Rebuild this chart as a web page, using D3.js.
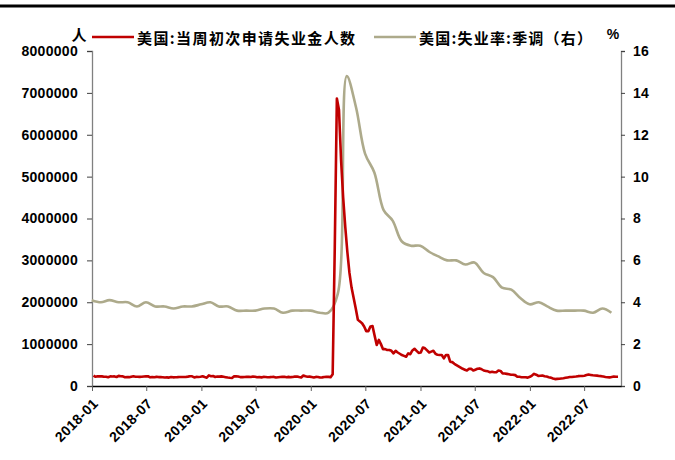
<!DOCTYPE html>
<html><head><meta charset="utf-8">
<script src="https://cdn.jsdelivr.net/npm/d3@7"></script>
<style>
html,body{margin:0;padding:0;background:#fff;}
svg{display:block;}
text{font-family:"Liberation Sans",Arial,sans-serif;font-weight:bold;fill:#000;}
.cn{font-family:"Noto Sans CJK SC","Noto Sans",sans-serif;font-weight:bold;}
</style>
</head><body>
<svg id="c" width="675" height="460"></svg>
<script>
// ---- data ----
const claimsName = "美国:当周初次申请失业金人数";
const rateName = "美国:失业率:季调（右）";
const leftUnit = "人";
const rightUnit = "%";
const claimsStart = "2018-01-06"; // weekly, week ending Saturday
// initial jobless claims, thousands of persons, weekly
const claims2018 = [250,220,233,230, 230,221,222,210, 231,226,229,215,242, 233,231,209,211, 211,223,234,221, 222,218,221,227,231, 232,207,216,208, 218,213,212,210, 203,205,201,214,207, 209,211,215,216, 214,216,224,234, 231,206,217,216,221];
const claims2019 = [231,213,199,253, 234,239,216,225, 223,230,221,211,202, 196,192,230,230, 228,212,211,215, 218,222,216,227,221, 209,216,206,217, 215,209,211,215,217, 204,208,213,219, 220,209,218,211, 215,225,227,213,203, 252,235,222,224];
const claims2020 = [214,205,217,216, 203,206,215,220,217, 211,282,3307,6867, 6600,5400,4500,3800, 3200,2700,2350,2100,1850, 1580,1540,1500,1420, 1310,1310,1420,1430, 1200,980,1100,1000,880, 880,860,860,840, 780,840,800,770,740, 720,700,780,760, 850,890,840,790];
const claims2021 = [800,920,900,850,800, 820,840,770,745, 740,740,660,740, 740,580,570,530, 500,470,440,410,390, 370,410,410,370, 390,410,420,400,370, 360,350,330,340, 330,330,370,360, 300,300,290,280,270, 270,260,220,220, 210,210,210,200];
const claims2022 = [220,250,290,270,240, 245,250,235,225, 210,200,180,165, 170,175,180,185,195, 205,215,215,220, 225,235,240,240, 245,260,275,265,255, 250,248,240,235, 225,215,210,205, 215,225,220,220];
// unemployment rate (SA), %, monthly, month-end, Dec 2017 .. Sep 2022
const rateStart = "2017-12";
const rate = [4.1,
  4.0,4.1,4.0,4.0,3.8,4.0,3.8,3.8,3.7,3.8,3.8,3.9,
  4.0,3.8,3.8,3.6,3.6,3.6,3.7,3.7,3.5,3.6,3.6,3.6,
  3.5,3.5,4.4,14.8,13.3,11.1,10.2,8.4,7.9,6.9,6.7,6.7,
  6.4,6.2,6.0,6.0,5.8,5.9,5.4,5.2,4.7,4.6,4.2,3.9,
  4.0,3.8,3.6,3.6,3.6,3.6,3.5,3.7,3.5];
const xDomain = ["2018-01-01","2022-11-01"];
const leftTicks = [0,1000000,2000000,3000000,4000000,5000000,6000000,7000000,8000000];
const rightTicks = [0,2,4,6,8,10,12,14,16];

// ---- build ----
const parse = d3.timeParse("%Y-%m-%d");
const claimsVals = [].concat(claims2018, claims2019, claims2020, claims2021, claims2022);
const cStart = parse(claimsStart);
const claimsData = claimsVals.map((v,i)=>({date:d3.timeDay.offset(cStart, 7*i), value:v*1000}));
const rStart = d3.timeParse("%Y-%m")(rateStart);
const rateData = rate.map((v,i)=>({date:d3.timeDay.offset(d3.timeMonth.offset(rStart, i+1), -1), value:v}));

const svg = d3.select("#c");
const L = 92, R = 621, T = 51, B = 386;
const x = d3.scaleTime().domain(xDomain.map(parse)).range([L, R]);
const yL = d3.scaleLinear().domain([0, 8000000]).range([B, T]);
const yR = d3.scaleLinear().domain([0, 16]).range([B, T]);

// top rule
svg.append("rect").attr("x",0).attr("y",4.5).attr("width",675).attr("height",3).attr("fill","#000");

// left axis
const gL = svg.append("g").attr("transform",`translate(${L},0)`)
  .call(d3.axisLeft(yL).tickValues(leftTicks).tickFormat(d3.format("d")).tickSize(5).tickPadding(9));
gL.select(".domain").attr("stroke","#808080").attr("stroke-width",1.3);
gL.selectAll(".tick line").attr("stroke","#404040");
gL.selectAll(".tick text").attr("font-size","14px").style("letter-spacing","0.3px").attr("fill","#000");

// right axis
const gR = svg.append("g").attr("transform",`translate(${R},0)`)
  .call(d3.axisRight(yR).tickValues(rightTicks).tickSize(4).tickPadding(8));
gR.select(".domain").attr("stroke","#808080").attr("stroke-width",1.3);
gR.selectAll(".tick line").attr("stroke","#404040");
gR.selectAll(".tick text").attr("font-size","14px").style("letter-spacing","0.3px").attr("fill","#000");

// bottom axis
const xTicks = d3.timeMonth.range(parse("2018-01-01"), parse("2022-10-01"), 6);
const gB = svg.append("g").attr("transform",`translate(0,${B})`)
  .call(d3.axisBottom(x).tickValues(xTicks).tickFormat(d3.timeFormat("%Y-%m")).tickSize(5).tickSizeOuter(0));
gB.select(".domain").attr("stroke","#000").attr("stroke-width",1.3);
gB.selectAll(".tick line").attr("stroke","#606060");
gB.selectAll(".tick text").attr("font-size","14px").style("letter-spacing","0.4px")
  .attr("text-anchor","end").attr("y",0).attr("dy","0.35em")
  .attr("transform","translate(3,15) rotate(-45)");

// lines
const lineC = d3.line().x(d=>x(d.date)).y(d=>yL(d.value));
const lineR = d3.line().x(d=>x(d.date)).y(d=>yR(d.value)).curve(d3.curveCatmullRom.alpha(0.5));
svg.append("path").datum(rateData).attr("d",lineR).attr("fill","none")
  .attr("stroke","#ADAA8B").attr("stroke-width",2.6).attr("stroke-linejoin","round");
svg.append("path").datum(claimsData).attr("d",lineC).attr("fill","none")
  .attr("stroke","#C00000").attr("stroke-width",2.6).attr("stroke-linejoin","round");

// legend + units
const ly = 37;
svg.append("text").attr("class","cn").attr("x",79).attr("y",ly-3).attr("text-anchor","middle")
  .attr("dominant-baseline","central").attr("font-size","15px").text(leftUnit);
svg.append("line").attr("x1",92).attr("x2",134).attr("y1",ly).attr("y2",ly).attr("stroke","#C00000").attr("stroke-width",2.6);
svg.append("text").attr("class","cn").attr("x",137).attr("y",ly).attr("dominant-baseline","central")
  .attr("font-size","15px").style("letter-spacing","1.4px").text(claimsName);
svg.append("line").attr("x1",374).attr("x2",416).attr("y1",ly).attr("y2",ly).attr("stroke","#ADAA8B").attr("stroke-width",2.6);
svg.append("text").attr("class","cn").attr("x",419).attr("y",ly).attr("dominant-baseline","central")
  .attr("font-size","15px").style("letter-spacing","1.2px").text(rateName);
svg.append("text").attr("x",613).attr("y",ly-3).attr("text-anchor","middle")
  .attr("dominant-baseline","central").attr("font-size","14px").text(rightUnit);
</script>
</body></html>
